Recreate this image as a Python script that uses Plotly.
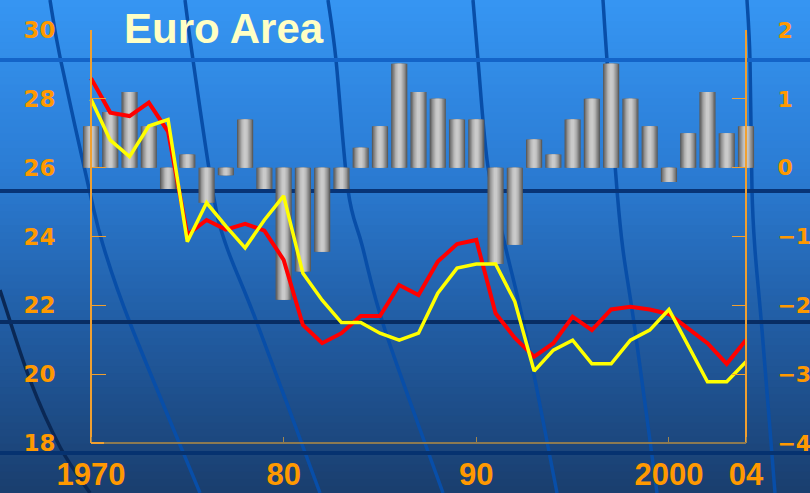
import plotly.graph_objects as go

# ---------------- data ----------------
years = list(range(1970, 2005))
red_series = [28.60, 27.60, 27.50, 27.89, 27.05, 24.05, 24.48, 24.20, 24.37, 24.17,
              23.32, 21.43, 20.90, 21.19, 21.69, 21.69, 22.59, 22.30, 23.27, 23.78,
              23.90, 21.77, 21.05, 20.51, 20.90, 21.67, 21.28, 21.88, 21.96, 21.88,
              21.75, 21.33, 20.90, 20.30, 20.99]
yellow_series = [27.99, 26.80, 26.32, 27.21, 27.40, 23.85, 24.98, 24.30, 23.67, 24.48,
                 25.18, 22.93, 22.15, 21.50, 21.50, 21.19, 20.99, 21.19, 22.35, 23.08,
                 23.20, 23.20, 22.11, 20.09, 20.70, 20.99, 20.30, 20.30, 20.99, 21.28,
                 21.88, 20.85, 19.78, 19.78, 20.36]
gap_bars = [0.60, 0.81, 1.10, 0.60, -0.31, 0.19, -0.51, -0.11, 0.70, -0.31,
            -1.92, -1.51, -1.22, -0.31, 0.29, 0.60, 1.51, 1.10, 1.00, 0.70,
            0.70, -1.40, -1.12, 0.41, 0.19, 0.70, 1.00, 1.51, 1.00, 0.60,
            -0.21, 0.50, 1.10, 0.50, 0.60]
x_tickvals = [1970, 1980, 1990, 2000, 2004]
x_ticktext = ["1970", "80", "90", "2000", "04"]
left_ticks = [18, 20, 22, 24, 26, 28, 30]
right_ticks = [-4, -3, -2, -1, 0, 1, 2]
title_text = "Euro Area"

W, H = 810, 493
ORANGE = "#ff9900"
AXIS_ORANGE = "#f0a030"

def px(x):
    return x / W

def py(y):
    return 1 - y / H

fig = go.Figure()

# cylinder-like bars: overlay of narrowing lighter bars
bar_layers = [(0.84, "#5c5c5c"), (0.72, "#787878"), (0.58, "#949494"),
              (0.44, "#acacac"), (0.30, "#bebebe"), (0.16, "#cacaca")]
for w, c in bar_layers:
    fig.add_trace(go.Bar(x=years, y=gap_bars, width=w, marker=dict(color=c, line=dict(width=0)),
                         yaxis="y", xaxis="x", showlegend=False, hoverinfo="skip"))

fig.add_trace(go.Scatter(x=years, y=red_series, mode="lines", yaxis="y2",
                         line=dict(color="#ff0000", width=4), showlegend=False))
fig.add_trace(go.Scatter(x=years, y=yellow_series, mode="lines", yaxis="y2",
                         line=dict(color="#ffff00", width=3.5), showlegend=False))

# ---------------- background decoration ----------------
shapes = []
stops = [(0, (54, 150, 243)), (170, (43, 124, 212)), (330, (33, 92, 162)), (493, (26, 62, 110))]

def col_at(y):
    for (y0, c0), (y1, c1) in zip(stops[:-1], stops[1:]):
        if y0 <= y <= y1:
            t = (y - y0) / (y1 - y0)
            return tuple(int(round(a + (b - a) * t)) for a, b in zip(c0, c1))
    return stops[-1][1]

n = 70
for i in range(n):
    y0 = H * i / n
    y1 = H * (i + 1) / n + 0.8
    c = col_at((y0 + y1) / 2)
    shapes.append(dict(type="rect", xref="paper", yref="paper", x0=0, x1=1,
                       y0=py(min(y1, H)), y1=py(y0), fillcolor="rgb(%d,%d,%d)" % c,
                       line=dict(width=0), layer="below"))

def smooth_path(pts):
    # Catmull-Rom to cubic Bezier, in paper coordinates
    P = [(px(x), py(y)) for x, y in pts]
    d = "M %.5f,%.5f" % P[0]
    for i in range(len(P) - 1):
        p0 = P[i - 1] if i > 0 else P[i]
        p1, p2 = P[i], P[i + 1]
        p3 = P[i + 2] if i + 2 < len(P) else P[i + 1]
        c1 = (p1[0] + (p2[0] - p0[0]) / 6, p1[1] + (p2[1] - p0[1]) / 6)
        c2 = (p2[0] - (p3[0] - p1[0]) / 6, p2[1] - (p3[1] - p1[1]) / 6)
        d += " C %.5f,%.5f %.5f,%.5f %.5f,%.5f" % (c1 + c2 + p2)
    return d

MER = "rgb(8,78,168)"
curves = [
    ([(50, 0), (60, 57), (90, 193), (103, 245), (130, 323), (200, 493)], MER),
    ([(185, 0), (193, 60), (213, 193), (226, 245), (257, 323), (320, 493)], MER),
    ([(328, 0), (336, 60), (348, 190), (362, 245), (385, 330), (443, 493)], MER),
    ([(473, 0), (478, 60), (488, 167), (505, 245), (525, 330), (557, 493)], MER),
    ([(603, 0), (607, 60), (617, 190), (623, 250), (635, 330), (657, 493)], MER),
    ([(747, 0), (750, 60), (752, 190), (755, 250), (762, 330), (775, 493)], MER),
    ([(0, 290), (30, 380), (60, 447), (90, 493)], "rgb(10,40,85)"),
]
for pts, c in curves:
    shapes.append(dict(type="path", xref="paper", yref="paper", path=smooth_path(pts),
                       line=dict(color=c, width=3.5), layer="below"))

hlines = [(60, "rgb(20,100,200)"), (191, "rgb(8,52,118)"), (322, "rgb(8,45,100)"),
          (453, "rgb(6,50,112)")]
for y, c in hlines:
    shapes.append(dict(type="line", xref="paper", yref="paper", x0=0, x1=1,
                       y0=py(y), y1=py(y), line=dict(color=c, width=4), layer="below"))

# bottom axis line (between the two vertical axes)
shapes.append(dict(type="line", xref="paper", yref="paper", x0=px(91), x1=px(746),
                   y0=py(443), y1=py(443), line=dict(color="#8c7a52", width=2), layer="above"))
shapes.append(dict(type="line", xref="paper", yref="paper", x0=px(91), x1=px(104),
                   y0=py(443), y1=py(443), line=dict(color=AXIS_ORANGE, width=2), layer="above"))

ext = 0.45
ppy = (746 - 91) / 34.0
xdom = [px(91 - ext * ppy), px(746 + ext * ppy)]
ydom = [py(443), py(30)]

fig.update_layout(
    width=W, height=H,
    margin=dict(l=0, r=0, t=0, b=0),
    paper_bgcolor="rgb(38,105,185)",
    plot_bgcolor="rgba(0,0,0,0)",
    barmode="overlay",
    showlegend=False,
    shapes=shapes,
    xaxis=dict(domain=xdom, range=[1970 - ext, 2004 + ext], tickvals=x_tickvals, ticktext=x_ticktext,
               showgrid=False, zeroline=False, showline=False,
               ticks="inside", ticklen=6, tickcolor="#a08650", tickwidth=1,
               tickfont=dict(family="Liberation Sans", size=31, color=ORANGE, weight="bold"),
               ticklabelstandoff=10, automargin=False, fixedrange=True),
    yaxis=dict(domain=ydom, range=[-4, 2], side="right", anchor="free", position=px(746),
               tickvals=right_ticks,
               showgrid=False, zeroline=False, showline=True, linecolor=AXIS_ORANGE, linewidth=2,
               ticks="inside", ticklen=13, tickcolor=AXIS_ORANGE, tickwidth=1,
               tickfont=dict(family="DejaVu Sans", size=22, color=ORANGE, weight="bold"),
               ticklabelstandoff=26, automargin=False, fixedrange=True),
    yaxis2=dict(domain=ydom, range=[18, 30], side="left", overlaying="y", anchor="free",
                position=px(91), tickvals=left_ticks,
                showgrid=False, zeroline=False, showline=True, linecolor=AXIS_ORANGE, linewidth=2,
                ticks="inside", ticklen=14, tickcolor=AXIS_ORANGE, tickwidth=1,
                tickfont=dict(family="DejaVu Sans", size=23, color=ORANGE, weight="bold"),
                ticklabelstandoff=30, automargin=False, fixedrange=True),
    annotations=[dict(text=title_text, xref="paper", yref="paper", x=px(122), y=py(3),
                      xanchor="left", yanchor="top", showarrow=False,
                      font=dict(family="Liberation Sans", size=42, color="#ffffc4", weight="bold"))],
)

fig.write_html("out.html")
